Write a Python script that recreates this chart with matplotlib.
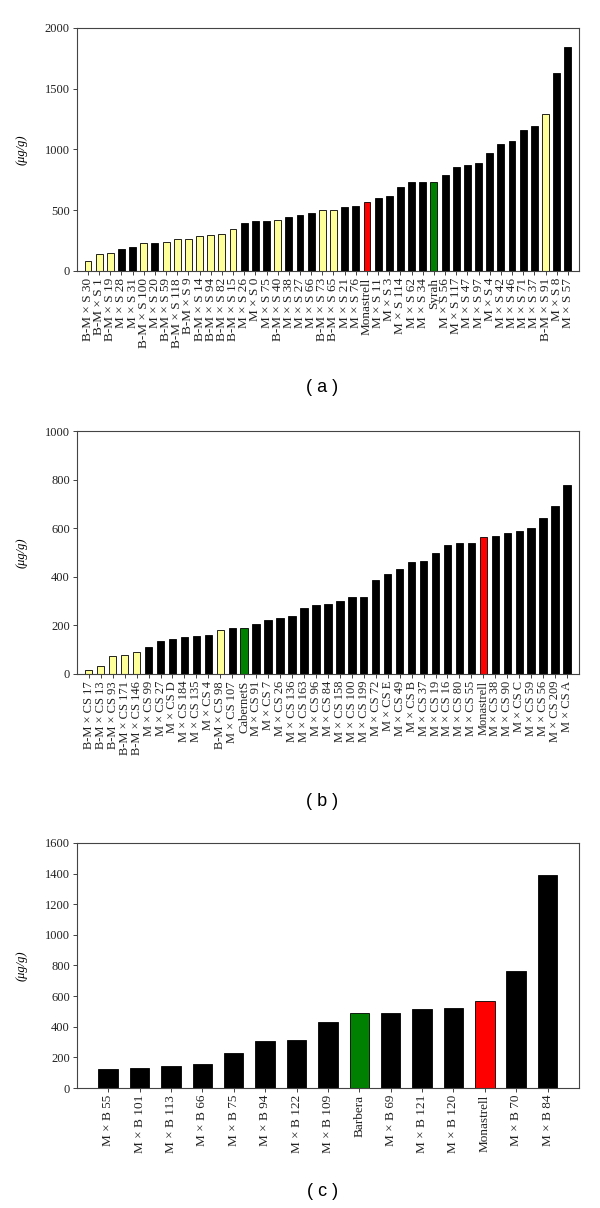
import matplotlib.pyplot as plt

labels_a = ['B-M × S 30', 'B-M × S 1', 'B-M × S 19', 'M × S 28', 'M × S 31',
            'B-M × S 100', 'M × S 20', 'B-M × S 59', 'B-M × S 118', 'B-M × S 9',
            'B-M × S 14', 'B-M × S 94', 'B-M × S 82', 'B-M × S 15', 'M × S 26',
            'M × S 0', 'M × S 75', 'B-M × S 40', 'M × S 38', 'M × S 27',
            'M × S 66', 'B-M × S 73', 'B-M × S 65', 'M × S 21', 'M × S 76',
            'Monastrell', 'M × S 11', 'M × S 3', 'M × S 114', 'M × S 62',
            'M × S 34', 'Syrah', 'M × S 56', 'M × S 117', 'M × S 47',
            'M × S 97', 'M × S 4', 'M × S 42', 'M × S 46', 'M × S 71',
            'M × S 37', 'B-M × S 91', 'M × S 8', 'M × S 57']
values_a = [85, 143, 146, 184, 195, 234, 234, 239, 261, 264,
            286, 297, 302, 343, 393, 407, 409, 420, 445, 462,
            481, 500, 500, 530, 536, 566, 599, 613, 692, 728,
            734, 736, 786, 852, 871, 887, 967, 1044, 1071, 1162,
            1195, 1288, 1632, 1841]

labels_b = ['B-M × CS 17', 'B-M × CS 13', 'B-M × CS 93', 'B-M × CS 171', 'B-M × CS 146',
            'M × CS 99', 'M × CS 27', 'M × CS D', 'M × CS 184', 'M × CS 135',
            'M × CS 4', 'B-M × CS 98', 'M × CS 107', 'CabernetS', 'M × CS 91',
            'M × CS 7', 'M × CS 26', 'M × CS 136', 'M × CS 163', 'M × CS 96',
            'M × CS 84', 'M × CS 158', 'M × CS 100', 'M × CS 199', 'M × CS 72',
            'M × CS E', 'M × CS 49', 'M × CS B', 'M × CS 37', 'M × CS 19',
            'M × CS 16', 'M × CS 80', 'M × CS 55', 'Monastrell', 'M × CS 38',
            'M × CS 90', 'M × CS C', 'M × CS 59', 'M × CS 56', 'M × CS 209',
            'M × CS A']
values_b = [18, 32, 75, 79, 92, 111, 134, 145, 152, 155,
            160, 182, 189, 190, 204, 223, 229, 237, 271, 285,
            288, 300, 318, 318, 385, 411, 434, 462, 463, 496,
            532, 538, 540, 564, 568, 579, 589, 601, 642, 690,
            778]

labels_c = ['M × B 55', 'M × B 101', 'M × B 113', 'M × B 66', 'M × B 75',
            'M × B 94', 'M × B 122', 'M × B 109', 'Barbera', 'M × B 69',
            'M × B 121', 'M × B 120', 'Monastrell', 'M × B 70', 'M × B 84']
values_c = [124, 129, 146, 155, 227, 308, 312, 434, 489, 491,
            515, 520, 565, 766, 1389]

parents = ['Syrah', 'CabernetS', 'Barbera']


def bar_color(name):
    if name == 'Monastrell':
        return '#ff0000'
    if name in parents:
        return '#008000'
    if name.startswith('B-M'):
        return '#ffff99'
    return '#000000'


def panel(rect, labels, values, ymax, ystep, tag, tag_y, fs):
    ax = fig.add_axes(rect)
    x = range(len(values))
    ax.bar(x, values, width=0.62, color=[bar_color(l) for l in labels],
           edgecolor='black', linewidth=0.6)
    ax.set_xlim(-1, len(values))
    ax.set_ylim(0, ymax)
    ax.set_yticks(range(0, ymax + 1, ystep))
    ax.set_xticks(list(x))
    ax.set_xticklabels(labels, rotation=90, fontsize=fs, family='Liberation Serif')
    for t in ax.get_yticklabels():
        t.set_family('Liberation Serif')
        t.set_fontsize(9)
    ax.tick_params(direction='out', length=3, width=0.6, colors='#222222', pad=2)
    for s in ax.spines.values():
        s.set_linewidth(0.8)
        s.set_color('#444444')
    ax.set_ylabel('(μg/g)', family='Liberation Serif', fontsize=9, style='italic')
    ax.yaxis.set_label_coords(-0.098, 0.5)
    fig.text(0.537, tag_y, tag, ha='center', va='center', fontsize=13,
             family='Liberation Sans')
    return ax


fig = plt.figure(figsize=(6, 12.08), dpi=100)

panel([0.128, 0.7757, 0.837, 0.2012], labels_a, values_a, 2000, 500, '( a )',
      1 - 387 / 1208, 9.5)
panel([0.128, 0.4421, 0.837, 0.2011], labels_b, values_b, 1000, 200, '( b )',
      1 - 802 / 1208, 9)
panel([0.128, 0.0993, 0.837, 0.2029], labels_c, values_c, 1600, 200, '( c )',
      1 - 1192 / 1208, 9.5)

plt.savefig('out.png', dpi=100)
